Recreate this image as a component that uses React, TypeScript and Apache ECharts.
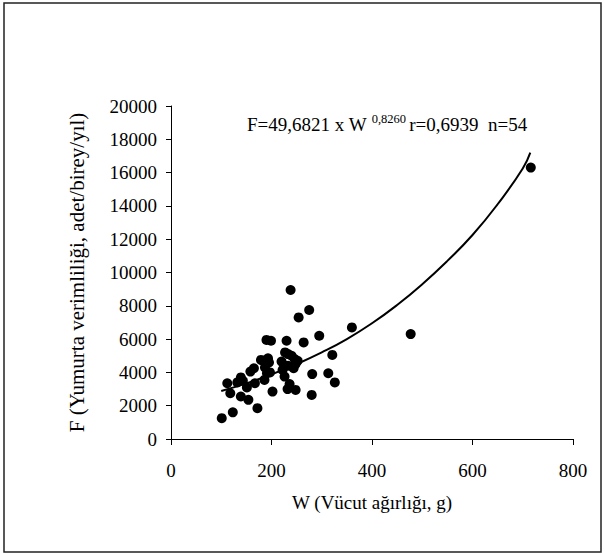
import React, { useEffect, useRef } from "react";
import * as echarts from "echarts";

// Body weight W (g)
const weights: number[] = [
  101, 123, 172, 154, 139, 118, 202, 112, 139, 151,
  167, 158, 165, 186, 191, 179, 193, 190, 199, 230,
  264, 295, 360, 477, 716, 238, 275, 254, 227, 240,
  246, 220, 233, 244, 226, 232, 248, 281, 280, 313,
  326, 321, 132, 187, 195, 233, 236, 248, 183, 143,
  228, 252, 197, 222,
];
// Fecundity F (eggs/individual/year)
const fecundity: number[] = [
  1250, 1600, 1850, 2350, 2550, 2750, 2850, 3350, 3700, 3100,
  3350, 4050, 4250, 3550, 3950, 4750, 4850, 5950, 5900, 5900,
  5800, 6200, 6700, 6300, 16300, 8950, 7750, 7300, 5200, 5000,
  4800, 4650, 4400, 4250, 3750, 3000, 2950, 3900, 2650, 3950,
  3400, 5050, 3400, 4300, 4600, 5100, 3300, 4500, 4700, 3500,
  4400, 4700, 4000, 4150,
];
// Trend curve
const trendW: number[] = [100, 150, 200, 250, 300, 350, 400, 450, 500, 550, 600, 650, 700, 715];
const trendF: number[] = [2880, 3340, 3880, 4500, 5200, 6000, 6950, 8050, 9300, 10700, 12250, 14100, 16250, 17200];

const xTicks = { min: 0, max: 800, interval: 200 };
const yTicks = { min: 0, max: 20000, interval: 2000 };

const xTitle = "W (Vücut ağırlığı, g)";
const yTitle = "F (Yumurta verimliliği, adet/birey/yıl)";

export default function App() {
  const ref = useRef<HTMLDivElement>(null);
  useEffect(() => {
    if (!ref.current) return;
    const chart = echarts.init(ref.current, null, { renderer: "svg" });
    const font = "'Liberation Serif', 'Times New Roman', serif";
    chart.setOption({
      animation: false,
      backgroundColor: "#ffffff",
      grid: { left: 171, right: 32, top: 106, bottom: 115, containLabel: false },
      xAxis: {
        type: "value",
        min: xTicks.min,
        max: xTicks.max,
        interval: xTicks.interval,
        name: xTitle,
        nameLocation: "middle",
        nameGap: 54,
        nameTextStyle: { fontFamily: font, fontSize: 19, color: "#000" },
        axisLine: { lineStyle: { color: "#000", width: 1 } },
        axisTick: { show: true, length: 6, lineStyle: { color: "#000" } },
        axisLabel: { fontFamily: font, fontSize: 19, color: "#000", margin: 22 },
        splitLine: { show: false },
      },
      yAxis: {
        type: "value",
        min: yTicks.min,
        max: yTicks.max,
        interval: yTicks.interval,
        name: yTitle,
        nameLocation: "middle",
        nameGap: 84,
        nameTextStyle: { fontFamily: font, fontSize: 21, color: "#000" },
        axisLine: { show: true, lineStyle: { color: "#000", width: 1 } },
        axisTick: { show: true, length: 5, lineStyle: { color: "#000" } },
        axisLabel: {
          fontFamily: font,
          fontSize: 19,
          color: "#000",
          margin: 14,
          formatter: (v: number) => String(v),
        },
        splitLine: { show: false },
      },
      series: [
        {
          type: "scatter",
          data: weights.map((w, i) => [w, fecundity[i]]),
          symbol: "circle",
          symbolSize: 10,
          itemStyle: { color: "#000", opacity: 1 },
          z: 3,
        },
        {
          type: "line",
          data: trendW.map((w, i) => [w, trendF[i]]),
          smooth: true,
          showSymbol: false,
          lineStyle: { color: "#000", width: 2 },
          z: 2,
        },
      ],
      graphic: [
        {
          type: "rect",
          shape: { x: 4, y: 3, width: 597, height: 549 },
          style: { fill: "none", stroke: "#222", lineWidth: 1.5 },
          silent: true,
        },
        {
          type: "text",
          left: 247,
          top: 112,
          style: {
            text: "{a|F=49,6821 x W }{b|0,8260 }{a|r=0,6939  n=54}",
            rich: {
              a: { fontFamily: font, fontSize: 19, color: "#000", lineHeight: 24 },
              b: { fontFamily: font, fontSize: 12.5, color: "#000", verticalAlign: "top", lineHeight: 24 },
            },
          },
        },
      ],
    });
    return () => chart.dispose();
  }, []);
  return (
    <div
      ref={ref}
      style={{ position: "fixed", left: 0, top: 0, width: 605, height: 554, background: "#fff" }}
    />
  );
}
